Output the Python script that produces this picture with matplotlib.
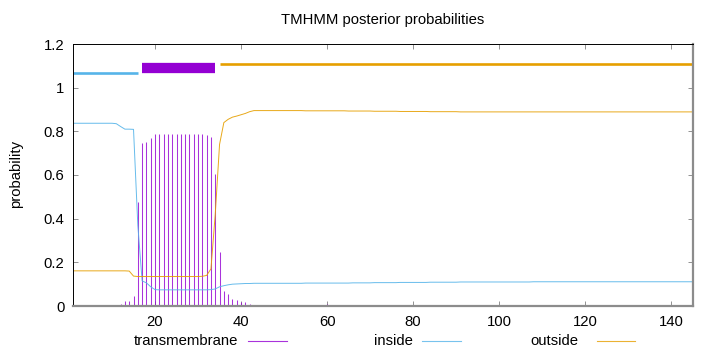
import matplotlib.pyplot as plt
from matplotlib.lines import Line2D

# --- data (residues 1..145) ---
residues = list(range(1, 146))

transmembrane = [
    0.0, 0.0, 0.0, 0.0, 0.0, 0.0, 0.0, 0.0, 0.0, 0.0,
    0.0, 0.010, 0.022, 0.025, 0.046, 0.478, 0.748, 0.752, 0.768, 0.786,
    0.787, 0.787, 0.787, 0.787, 0.787, 0.787, 0.787, 0.787, 0.787, 0.787,
    0.787, 0.781, 0.772, 0.605, 0.249, 0.068, 0.053, 0.033, 0.027, 0.019,
    0.019, 0.010, 0.002, 0.001, 0.001, 0.001, 0.001, 0.001, 0.002, 0.004,
    0.004, 0.004, 0.005, 0.005, 0.004, 0.004, 0.005, 0.005, 0.006, 0.010,
    0.005, 0.005, 0.004, 0.004, 0.005, 0.005, 0.004, 0.004, 0.005, 0.005,
    0.004, 0.004, 0.004, 0.005, 0.005, 0.004, 0.004, 0.004, 0.005, 0.005,
    0.004, 0.004, 0.004, 0.004, 0.004, 0.004, 0.004, 0.004, 0.004, 0.004,
    0.004, 0.004, 0.003, 0.003, 0.003, 0.003, 0.003, 0.003, 0.003, 0.003,
    0.003, 0.003, 0.003, 0.002, 0.002, 0.001, 0.0, 0.0, 0.0, 0.0,
    0.0, 0.0, 0.0, 0.0, 0.0, 0.0, 0.0, 0.0, 0.0, 0.0,
    0.0, 0.0, 0.0, 0.0, 0.0, 0.0, 0.0, 0.0, 0.0, 0.0,
    0.0, 0.0, 0.0, 0.0, 0.0, 0.0, 0.0, 0.0, 0.0, 0.0,
    0.0, 0.0, 0.0, 0.0, 0.0,
]

inside = [
    0.837, 0.837, 0.837, 0.837, 0.837, 0.837, 0.837, 0.837, 0.837, 0.837,
    0.835, 0.822, 0.810, 0.810, 0.809, 0.370, 0.115, 0.106, 0.088, 0.075,
    0.074, 0.074, 0.074, 0.074, 0.074, 0.074, 0.074, 0.074, 0.074, 0.074,
    0.074, 0.074, 0.075, 0.078, 0.088, 0.093, 0.097, 0.100, 0.101, 0.102,
    0.103, 0.103, 0.104, 0.104, 0.104, 0.104, 0.104, 0.104, 0.104, 0.104,
    0.104, 0.104, 0.104, 0.104, 0.105, 0.105, 0.105, 0.105, 0.105, 0.105,
    0.105, 0.105, 0.105, 0.105, 0.105, 0.106, 0.106, 0.106, 0.106, 0.106,
    0.107, 0.107, 0.107, 0.107, 0.107, 0.107, 0.108, 0.108, 0.108, 0.108,
    0.108, 0.108, 0.108, 0.109, 0.109, 0.109, 0.109, 0.109, 0.109, 0.109,
    0.110, 0.110, 0.110, 0.110, 0.110, 0.110, 0.110, 0.110, 0.110, 0.110,
    0.110, 0.110, 0.110, 0.110, 0.110, 0.110, 0.110, 0.111, 0.111, 0.111,
    0.111, 0.111, 0.111, 0.111, 0.111, 0.111, 0.111, 0.111, 0.111, 0.111,
    0.111, 0.111, 0.111, 0.111, 0.111, 0.111, 0.111, 0.111, 0.111, 0.111,
    0.111, 0.111, 0.111, 0.111, 0.111, 0.111, 0.111, 0.111, 0.111, 0.111,
    0.111, 0.111, 0.111, 0.111, 0.111,
]

outside = [
    0.161, 0.161, 0.161, 0.161, 0.161, 0.161, 0.161, 0.161, 0.161, 0.161,
    0.161, 0.161, 0.161, 0.160, 0.137, 0.135, 0.135, 0.135, 0.135, 0.135,
    0.135, 0.135, 0.135, 0.135, 0.135, 0.135, 0.135, 0.135, 0.135, 0.135,
    0.136, 0.140, 0.170, 0.420, 0.740, 0.840, 0.855, 0.865, 0.870, 0.876,
    0.882, 0.890, 0.895, 0.895, 0.895, 0.895, 0.895, 0.895, 0.895, 0.895,
    0.895, 0.895, 0.895, 0.895, 0.894, 0.894, 0.894, 0.894, 0.894, 0.894,
    0.894, 0.894, 0.894, 0.894, 0.893, 0.893, 0.893, 0.893, 0.893, 0.893,
    0.892, 0.892, 0.892, 0.892, 0.892, 0.892, 0.891, 0.891, 0.891, 0.891,
    0.891, 0.891, 0.891, 0.890, 0.890, 0.890, 0.890, 0.890, 0.890, 0.890,
    0.889, 0.889, 0.889, 0.889, 0.889, 0.889, 0.889, 0.889, 0.889, 0.889,
    0.889, 0.889, 0.889, 0.889, 0.889, 0.889, 0.889, 0.889, 0.889, 0.889,
    0.889, 0.889, 0.889, 0.889, 0.889, 0.889, 0.889, 0.889, 0.889, 0.889,
    0.889, 0.889, 0.889, 0.889, 0.889, 0.889, 0.889, 0.889, 0.889, 0.889,
    0.889, 0.889, 0.889, 0.889, 0.889, 0.889, 0.889, 0.889, 0.889, 0.889,
    0.889, 0.889, 0.889, 0.889, 0.889,
]

# predicted topology: (label, first residue, last residue)
topology_labels = ["inside", "TMhelix", "outside"]
topology_start = [1, 17, 35]
topology_end = [16, 34, 145]

x_ticks = [20, 40, 60, 80, 100, 120, 140]
y_ticks = [0, 0.2, 0.4, 0.6, 0.8, 1.0, 1.2]
y_ticklabels = ["0", "0.2", "0.4", "0.6", "0.8", "1", "1.2"]

# --- styling (gnuplot defaults) ---
C_TM = "#9400D3"
C_IN = "#56B4E9"
C_OUT = "#E69F00"
topo_style = {
    "inside": dict(color=C_IN, level=1.069, lw=1.9),
    "TMhelix": dict(color=C_TM, level=1.089, lw=7.4),
    "outside": dict(color=C_OUT, level=1.109, lw=1.9),
}

plt.rcParams["font.family"] = ["Liberation Sans", "DejaVu Sans"]
FS = 10.7

fig = plt.figure(figsize=(7.2, 3.52), dpi=100)
ax = fig.add_axes([73.3 / 720, 1 - 306 / 352, 619.4 / 720, 262 / 352])

ax.vlines(residues, 0, transmembrane, color=C_TM, lw=0.75, alpha=0.8)
ax.plot(residues, inside, color=C_IN, lw=0.7, alpha=0.9)
ax.plot(residues, outside, color=C_OUT, lw=0.7, alpha=0.9)

for lab, s, e in zip(topology_labels, topology_start, topology_end):
    st = topo_style[lab]
    ax.plot([s, e], [st["level"], st["level"]], color=st["color"],
            lw=st["lw"], solid_capstyle="butt")

ax.set_xlim(1, 145)
ax.set_ylim(0, 1.2)
ax.set_xticks(x_ticks)
ax.set_yticks(y_ticks)
ax.set_yticklabels(y_ticklabels)
ax.tick_params(direction="in", length=3.5, width=0.6, color="#808080",
               top=True, right=True, labelsize=FS, pad=6.5)

for side in ["left", "top"]:
    ax.spines[side].set_color("black")
    ax.spines[side].set_linewidth(0.7)
for side in ["bottom", "right"]:
    ax.spines[side].set_color("#8c8c8c")
    ax.spines[side].set_linewidth(1.6)

fig.text(383 / 720, 1 - 20 / 352, "TMHMM posterior probabilities",
         ha="center", va="center", fontsize=FS)
fig.text(16 / 720, 1 - 174 / 352, "probability", rotation=90,
         ha="center", va="center", fontsize=FS)

# legend row under the axis (gnuplot style: text then sample line)
leg_y = 1 - 341 / 352
legend_items = [
    ("transmembrane", 238, 248, 287, C_TM),
    ("inside", 413, 422, 461, C_IN),
    ("outside", 578, 597, 635, C_OUT),
]
for text, text_right, x0, x1, col in legend_items:
    fig.text(text_right / 720, leg_y, text, ha="right", va="center", fontsize=FS)
    fig.add_artist(Line2D([x0 / 720, x1 / 720], [leg_y, leg_y],
                          color=col, lw=0.8, alpha=0.8,
                          transform=fig.transFigure))

fig.savefig("out.png", dpi=100)
